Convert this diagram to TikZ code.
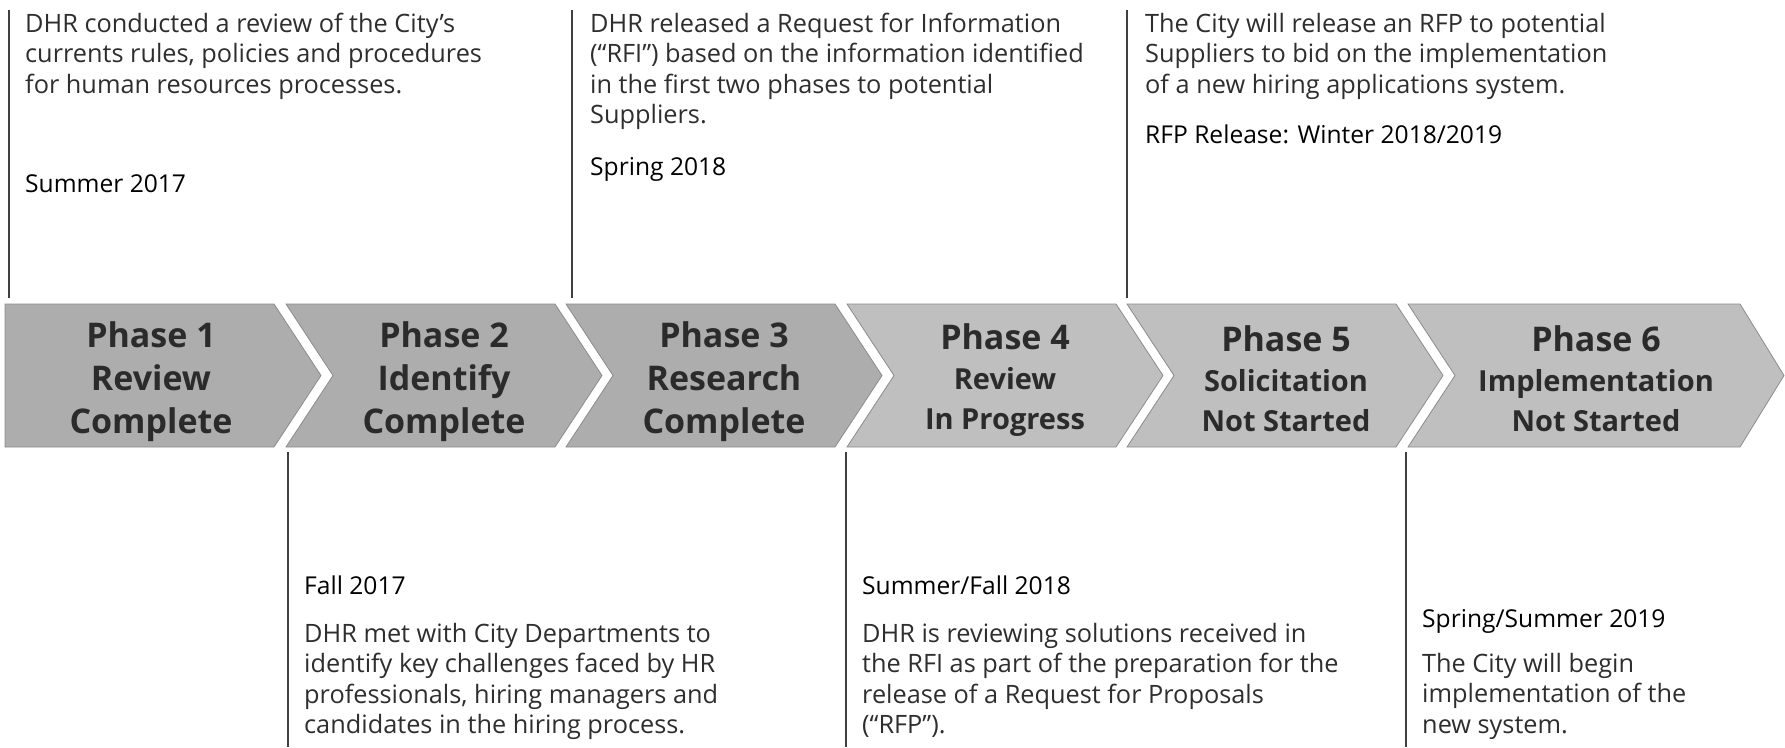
\documentclass[tikz,border=0pt]{standalone}
\usepackage{fontspec}
\setmainfont{Open Sans}
\definecolor{chevA}{HTML}{ADADAD}
\definecolor{chevB}{HTML}{BFBFBF}
\definecolor{phtext}{HTML}{2B2B2B}
\tikzset{
  chevbox/.style={draw=black!45, line width=0.8pt},
  body/.style={anchor=base west, align=left, inner sep=0pt, font=\fontsize{25.3}{30.5}\selectfont, text=black!82},
  datetext/.style={anchor=base west, inner sep=0pt, font=\fontsize{24.6}{30}\selectfont, text=black},
  phbig/.style={align=center, inner sep=0pt, font=\fontsize{34}{43}\selectfont\bfseries, text=phtext},
  phmix/.style={align=center, inner sep=0pt, font=\fontsize{29}{40}\selectfont\bfseries, text=phtext},
  tick/.style={draw=black!75, line width=1.4pt},
}
\newcommand{\pbig}{\fontsize{34}{40}\selectfont}
\begin{document}
\begin{tikzpicture}[x=1pt,y=-1pt]
\useasboundingbox (0,0) rectangle (1785,747);
\fill[white] (0,0) rectangle (1785,747);

% chevrons
\path[chevbox, fill=chevA] (5,304) -- (274,304) -- (321,375.5) -- (274,447) -- (5,447) -- cycle;
\foreach \s/\w/\d/\c in {286/269/47/chevA, 566/269/47/chevA, 847/269/47/chevB, 1127/269/47/chevB, 1408/332/44/chevB}{
  \path[chevbox, fill=\c] (\s,304) -- ({\s+\w},304) -- ({\s+\w+\d},375.5) -- ({\s+\w},447) -- (\s,447) -- ({\s+47},375.5) -- cycle;
}

% chevron labels
\node[phbig] (p1) at (151,382) {Phase 1\\Review\\Complete};
\node[phbig] (p2) at (444,382) {Phase 2\\Identify\\Complete};
\node[phbig] (p3) at (724,382) {Phase 3\\Research\\Complete};
\node[phmix] (p4) at (1005,380) {\pbig Phase 4\\Review\\In Progress};
\node[phmix] (p5) at (1286,379) {\pbig Phase 5\\Solicitation\\Not Started};
\node[phmix] (p6) at (1596,379) {\pbig Phase 6\\Implementation\\Not Started};

% tick lines
\coordinate (ta1) at (9,10);    \coordinate (tb1) at (9,298);
\coordinate (ta2) at (572,10);  \coordinate (tb2) at (572,298);
\coordinate (ta3) at (1127,10); \coordinate (tb3) at (1127,298);
\coordinate (ba1) at (288,452); \coordinate (bb1) at (288,747);
\coordinate (ba2) at (846,452); \coordinate (bb2) at (846,747);
\coordinate (ba3) at (1406,452);\coordinate (bb3) at (1406,747);
\draw[tick] (ta1) -- (tb1);
\draw[tick] (ta2) -- (tb2);
\draw[tick] (ta3) -- (tb3);
\draw[tick] (ba1) -- (bb1);
\draw[tick] (ba2) -- (bb2);
\draw[tick] (ba3) -- (bb3);

% top texts (anchor = baseline of last line)
\node[body] (d1) at (25,93) {DHR conducted a review of the City’s\\currents rules, policies and procedures\\for human resources processes.};
\node[datetext] (w1) at (25,192) {Summer 2017};
\node[body] (d3) at (590,123.5) {DHR released a Request for Information\\(“RFI”) based on the information identified\\in the first two phases to potential\\Suppliers.};
\node[datetext] (w3) at (590,175) {Spring 2018};
\node[body] (d5) at (1145,93) {The City will release an RFP to potential\\Suppliers to bid on the implementation\\of a new hiring applications system.};
\node[datetext] (w5) at (1145,143) {RFP Release: Winter 2018/2019};

% bottom texts
\node[datetext] (w2) at (304,594) {Fall 2017};
\node[body] (d2) at (304,733.5) {DHR met with City Departments to\\identify key challenges faced by HR\\professionals, hiring managers and\\candidates in the hiring process.};
\node[datetext] (w4) at (862,594) {Summer/Fall 2018};
\node[body] (d4) at (862,733.5) {DHR is reviewing solutions received in\\the RFI as part of the preparation for the\\release of a Request for Proposals\\(“RFP”).};
\node[datetext] (w6) at (1422,627) {Spring/Summer 2019};
\node[body] (d6) at (1422,733) {The City will begin\\implementation of the\\new system.};
\end{tikzpicture}
\end{document}
